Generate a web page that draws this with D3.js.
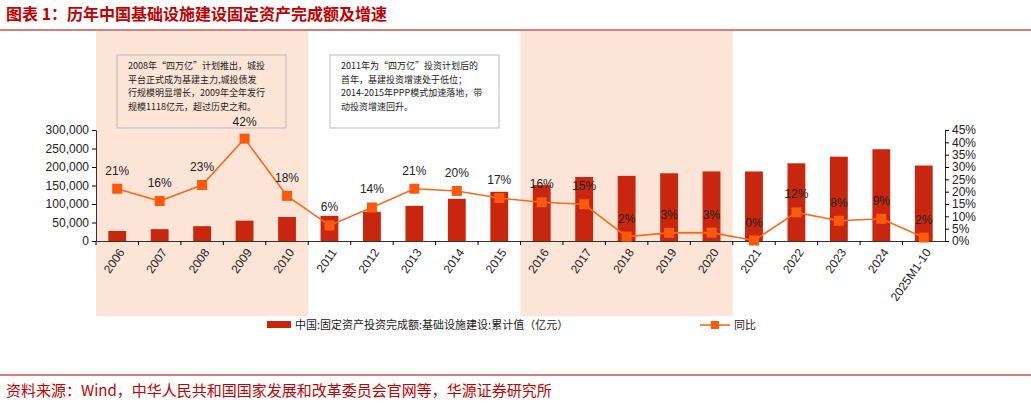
<!DOCTYPE html>
<html><head><meta charset="utf-8">
<script src="https://cdn.jsdelivr.net/npm/d3@7"></script>
<style>body{margin:0;background:#fff;font-family:"Liberation Sans","Noto Sans CJK SC",sans-serif}</style>
</head><body><div id="chart"></div>
<script>
var years = ['2006','2007','2008','2009','2010','2011','2012','2013','2014','2015','2016','2017','2018','2019','2020','2021','2022','2023','2024','2025M1-10'];
var investment = [27000,32000,40000,55000,65000,68000,79000,95000,114000,133000,151000,173000,176000,183000,188000,188000,210000,228000,248000,204000];
var growth = [21.2,16.2,22.7,41.5,18.3,6.3,13.6,21.2,20.3,17.4,15.7,14.9,1.8,3.3,3.4,0.2,11.6,8.2,9.0,1.4];
var growthLabels = ['21%','16%','23%','42%','18%','6%','14%','21%','20%','17%','16%','15%','2%','3%','3%','0%','12%','8%','9%','2%'];
var shaded = [['2006','2010'],['2016','2020']];
var leftTicks = [0,50000,100000,150000,200000,250000,300000];
var rightTicks = [0,5,10,15,20,25,30,35,40,45];

var W = 1031, H = 407;
var svg = d3.select('#chart').append('svg').attr('width', W).attr('height', H);
var cjk = '"Noto Sans CJK SC",sans-serif';

svg.append('text').attr('x', 6).attr('y', 20).attr('fill', '#c00000')
	.style('font-family', cjk).style('font-size', '16px').style('font-weight', 'bold')
	.text('图表 1：历年中国基础设施建设固定资产完成额及增速');
svg.append('line').attr('x1', 0).attr('x2', W).attr('y1', 30).attr('y2', 30).attr('stroke', '#a50000').attr('stroke-width', 1);

var x = d3.scaleBand().domain(years).range([96, 945]).paddingInner(0.58).paddingOuter(0.29);
var step = x.step();
var y = d3.scaleLinear().domain([0, 300000]).range([241, 130]);
var y2 = d3.scaleLinear().domain([0, 45]).range([241, 130]);

shaded.forEach(function(s){
	var gap = (step - x.bandwidth()) / 2;
	var x0 = x(s[0]) - gap;
	var x1 = x(s[1]) + x.bandwidth() + gap;
	svg.append('rect').attr('x', x0).attr('y', 31).attr('width', x1 - x0).attr('height', 285).attr('fill', '#fce4d6');
});

svg.selectAll('.bar').data(investment).enter().append('rect')
	.attr('x', function(d, i){ return x(years[i]); })
	.attr('y', function(d){ return y(d); })
	.attr('width', x.bandwidth())
	.attr('height', function(d){ return y(0) - y(d); })
	.attr('fill', '#c8260e');

var ax = svg.append('g').attr('transform', 'translate(0,241)')
	.call(d3.axisBottom(x).tickSize(4).tickSizeOuter(0));
ax.selectAll('.tick line').attr('transform', 'translate(' + (-step / 2) + ',0)');
ax.selectAll('text').attr('transform', 'rotate(-55)').attr('text-anchor', 'end')
	.attr('dx', '-0.4em').attr('dy', '0.5em').style('font-size', '12px').attr('fill', '#222');

var ayl = svg.append('g').attr('transform', 'translate(96,0)')
	.call(d3.axisLeft(y).tickValues(leftTicks).tickFormat(d3.format(',')).tickSize(4));
ayl.selectAll('text').style('font-size', '12px').attr('fill', '#222');
var ayr = svg.append('g').attr('transform', 'translate(945,0)')
	.call(d3.axisRight(y2).tickValues(rightTicks).tickFormat(function(d){ return d + '%'; }).tickSize(4));
ayr.selectAll('text').style('font-size', '12px').attr('fill', '#222');
svg.selectAll('.domain').attr('stroke', '#333');

var cx = function(i){ return x(years[i]) + x.bandwidth() / 2; };
svg.append('path').datum(growth)
	.attr('d', d3.line().x(function(d, i){ return cx(i); }).y(function(d){ return y2(d); }))
	.attr('fill', 'none').attr('stroke', '#fa6a1e').attr('stroke-width', 1.6);
svg.selectAll('.pt').data(growth).enter().append('rect')
	.attr('x', function(d, i){ return cx(i) - 5; }).attr('y', function(d){ return y2(d) - 5; })
	.attr('width', 10).attr('height', 10).attr('fill', '#fa5a0f');
svg.selectAll('.lbl').data(growth).enter().append('text')
	.attr('x', function(d, i){ return cx(i); })
	.attr('y', function(d, i){ return y2(d) - (i === 3 ? 13 : 14); })
	.attr('text-anchor', 'middle').style('font-size', '12px').attr('fill', '#222')
	.text(function(d, i){ return growthLabels[i]; });

var notes = [
	{x: 117, lines: ['2008年“四万亿”计划推出，城投', '平台正式成为基建主力,城投债发', '行规模明显增长，2009年全年发行', '规模1118亿元，超过历史之和。']},
	{x: 330, lines: ['2011年为“四万亿”投资计划后的', '首年，基建投资增速处于低位；', '2014-2015年PPP模式加速落地，带', '动投资增速回升。']}
];
notes.forEach(function(n){
	svg.append('rect').attr('x', n.x).attr('y', 55).attr('width', 169).attr('height', 73)
		.attr('fill', 'none').attr('stroke', '#bbb').attr('stroke-width', 1);
	n.lines.forEach(function(l, i){
		svg.append('text').attr('x', n.x + 11).attr('y', 69 + i * 13.5).style('font-family', cjk)
			.style('font-size', '9px').attr('fill', '#222').text(l);
	});
});

svg.append('rect').attr('x', 267).attr('y', 321).attr('width', 24).attr('height', 7).attr('fill', '#c8260e');
svg.append('text').attr('x', 295).attr('y', 329).style('font-family', cjk).style('font-size', '11px').attr('fill', '#222')
	.text('中国:固定资产投资完成额:基础设施建设:累计值（亿元）');
svg.append('line').attr('x1', 700).attr('x2', 730).attr('y1', 325).attr('y2', 325).attr('stroke', '#fa6a1e').attr('stroke-width', 1.6);
svg.append('rect').attr('x', 711).attr('y', 321).attr('width', 8).attr('height', 8).attr('fill', '#fa5a0f');
svg.append('text').attr('x', 734).attr('y', 329).style('font-family', cjk).style('font-size', '11px').attr('fill', '#222').text('同比');

svg.append('line').attr('x1', 0).attr('x2', W).attr('y1', 375).attr('y2', 375).attr('stroke', '#a50000').attr('stroke-width', 1);
svg.append('text').attr('x', 6).attr('y', 396).style('font-family', cjk).style('font-size', '15px').attr('fill', '#c00000')
	.text('资料来源：Wind，中华人民共和国国家发展和改革委员会官网等，华源证券研究所');
</script></body></html>
